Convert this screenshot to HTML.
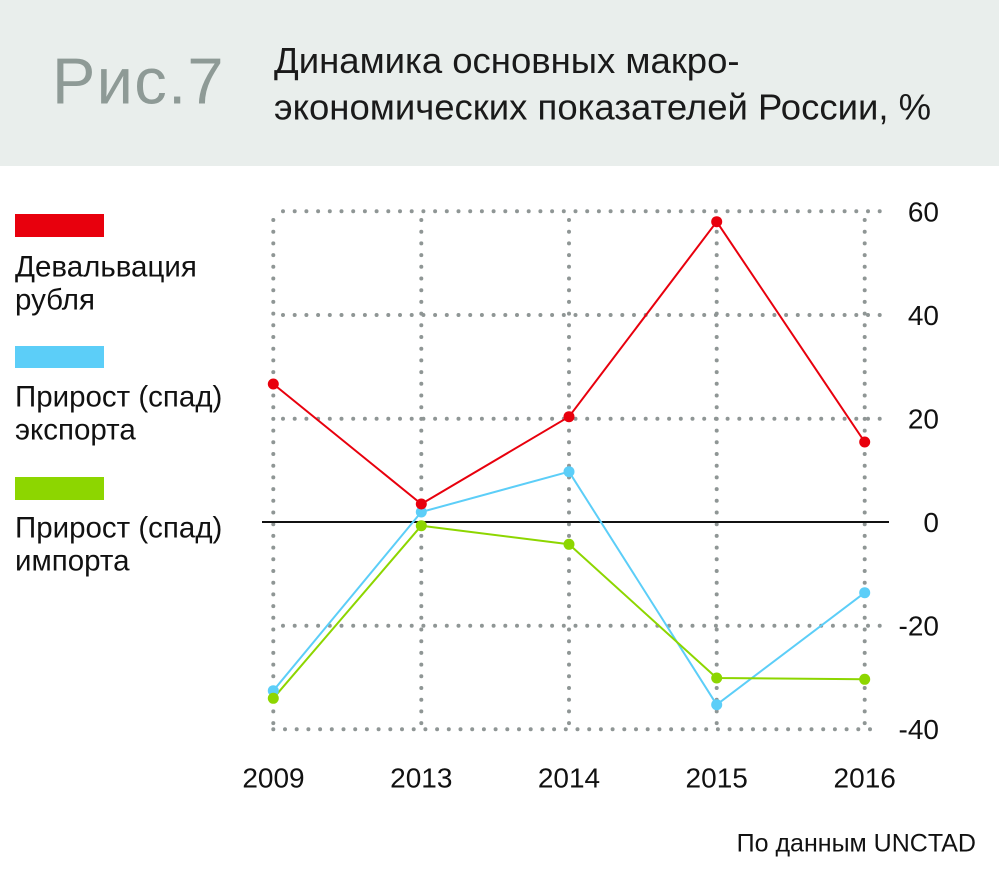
<!DOCTYPE html>
<html><head><meta charset="utf-8"><style>
html,body{margin:0;padding:0;background:#fff;}
svg{display:block;}
text{font-family:"Liberation Sans","Noto Sans CJK SC",sans-serif;}
</style></head><body>
<svg width="999" height="888" viewBox="0 0 999 888" xmlns="http://www.w3.org/2000/svg">
<rect x="0" y="0" width="999" height="166" fill="#e9eeec"/>
<text x="52" y="103.5" font-size="65" fill="#8e9a96" letter-spacing="1.3">Рис.7</text>
<text x="274" y="73" font-size="36.5" fill="#1a1a1a">Динамика основных макро-</text>
<text x="274" y="119.5" font-size="36.5" fill="#1a1a1a">экономических показателей России, %</text>

<!-- legend -->
<rect x="15" y="214" width="89" height="23" fill="#e8000d"/>
<text x="15" y="276.5" font-size="29.5" fill="#111">Девальвация</text>
<text x="15" y="309.5" font-size="29.5" fill="#111">рубля</text>
<rect x="15" y="346" width="89" height="22" fill="#5ccef8"/>
<text x="15" y="406.5" font-size="29.5" fill="#111">Прирост (спад)</text>
<text x="15" y="439.5" font-size="29.5" fill="#111">экспорта</text>
<rect x="15" y="477" width="89" height="23" fill="#8dd600"/>
<text x="15" y="537.5" font-size="29.5" fill="#111">Прирост (спад)</text>
<text x="15" y="570.5" font-size="29.5" fill="#111">импорта</text>

<!-- grid -->
<g stroke="#8f9695" stroke-width="4" stroke-linecap="round" stroke-dasharray="0 11.7" fill="none">
<line x1="283" y1="211.3" x2="881" y2="211.3"/>
<line x1="283" y1="315" x2="881" y2="315"/>
<line x1="283" y1="418.7" x2="881" y2="418.7"/>
<line x1="283" y1="625.7" x2="881" y2="625.7"/>
<line x1="273.3" y1="729.3" x2="881" y2="729.3"/>
<line x1="273.3" y1="220" x2="273.3" y2="729"/>
<line x1="421.3" y1="220" x2="421.3" y2="729"/>
<line x1="569" y1="220" x2="569" y2="729"/>
<line x1="716.7" y1="220" x2="716.7" y2="729"/>
<line x1="864.7" y1="220" x2="864.7" y2="729"/>
</g>
<line x1="262" y1="522" x2="889" y2="522" stroke="#111" stroke-width="2"/>

<!-- series -->
<g fill="none" stroke-width="2" stroke-linejoin="round">
<polyline stroke="#5ccef8" points="273.3,690.7 421.3,512 569,471.7 716.7,704.7 864.7,592.7"/>
<polyline stroke="#8dd600" points="273.3,698.3 421.3,525.7 569,544.3 716.7,678 864.7,679.3"/>
<polyline stroke="#e8000d" points="273.3,384 421.3,504 569,416.7 716.7,221.7 864.7,442"/>
</g>
<g fill="#5ccef8">
<circle cx="273.3" cy="690.7" r="5.5"/><circle cx="421.3" cy="512" r="5.5"/><circle cx="569" cy="471.7" r="5.5"/><circle cx="716.7" cy="704.7" r="5.5"/><circle cx="864.7" cy="592.7" r="5.5"/>
</g>
<g fill="#8dd600">
<circle cx="273.3" cy="698.3" r="5.5"/><circle cx="421.3" cy="525.7" r="5.5"/><circle cx="569" cy="544.3" r="5.5"/><circle cx="716.7" cy="678" r="5.5"/><circle cx="864.7" cy="679.3" r="5.5"/>
</g>
<g fill="#e8000d">
<circle cx="273.3" cy="384" r="5.5"/><circle cx="421.3" cy="504" r="5.5"/><circle cx="569" cy="416.7" r="5.5"/><circle cx="716.7" cy="221.7" r="5.5"/><circle cx="864.7" cy="442" r="5.5"/>
</g>

<!-- y labels -->
<g font-size="28" fill="#111" text-anchor="end">
<text x="939" y="221.5">60</text>
<text x="939" y="325">40</text>
<text x="939" y="428.5">20</text>
<text x="939" y="532">0</text>
<text x="939" y="635.5">-20</text>
<text x="939" y="739">-40</text>
</g>
<!-- x labels -->
<g font-size="28" fill="#111" text-anchor="middle">
<text x="273.5" y="787.5">2009</text>
<text x="421.3" y="787.5">2013</text>
<text x="569" y="787.5">2014</text>
<text x="716.7" y="787.5">2015</text>
<text x="864.7" y="787.5">2016</text>
</g>
<text x="976" y="851.5" font-size="25" fill="#111" text-anchor="end">По данным UNCTAD</text>
</svg>
</body></html>
